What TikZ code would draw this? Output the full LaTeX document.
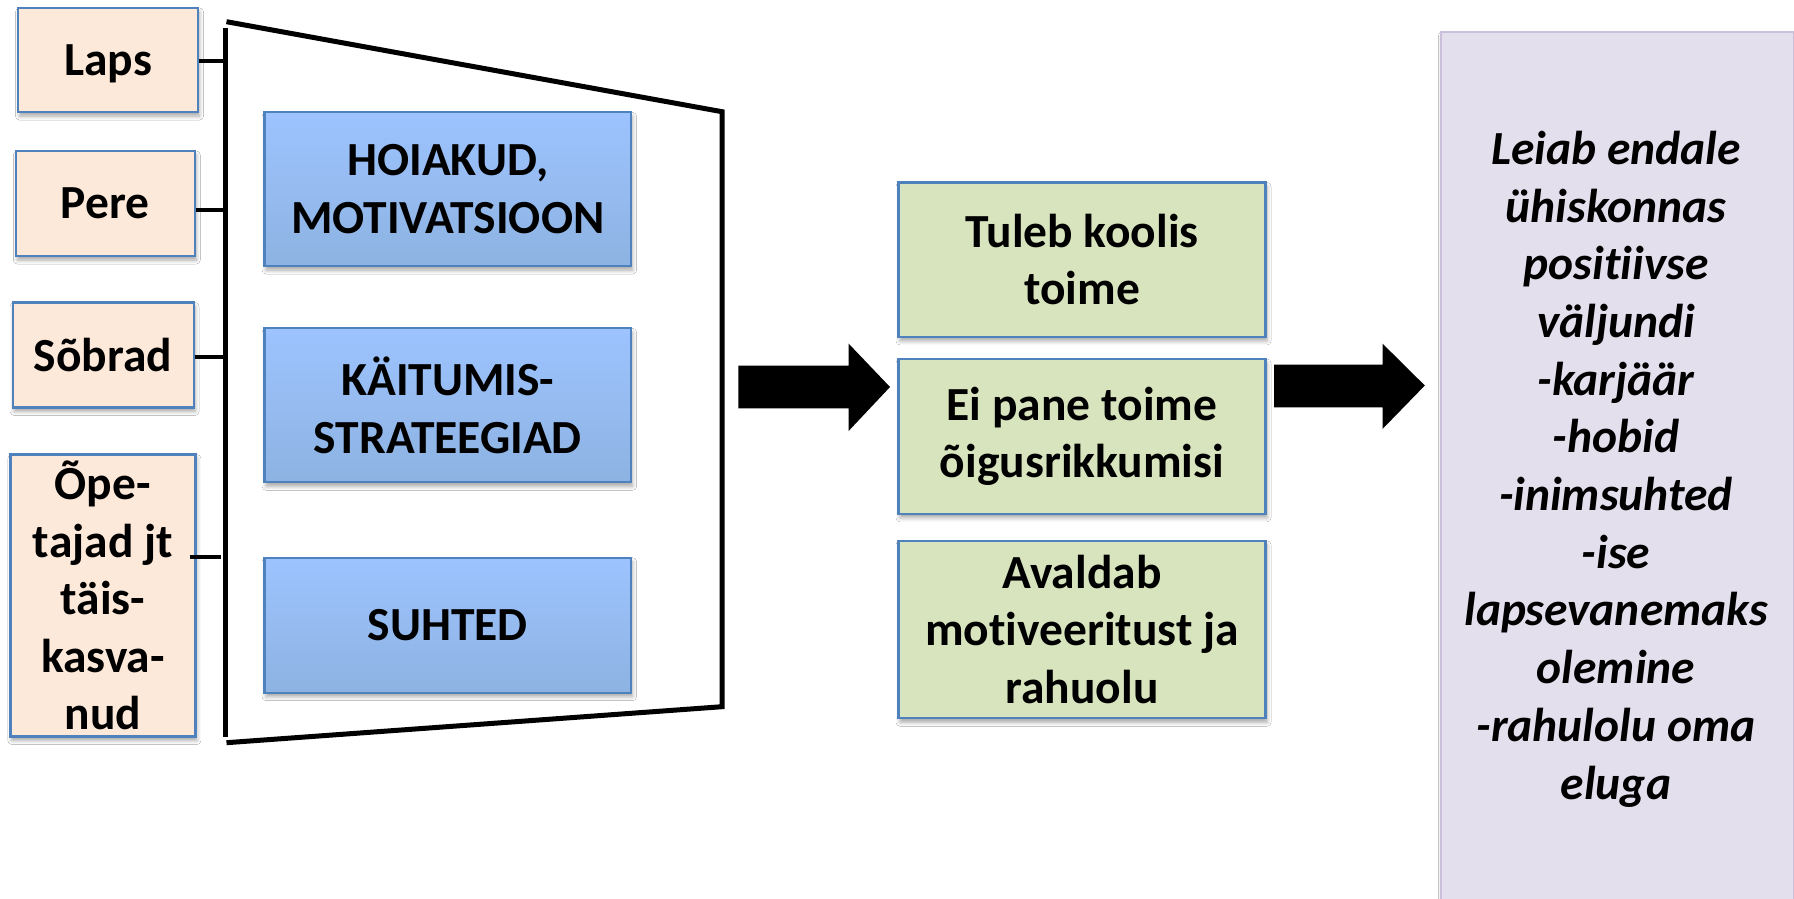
\documentclass[tikz,border=0pt]{standalone}
\usepackage{fontspec}
\setmainfont{Carlito}[Ligatures=NoCommon]
\usetikzlibrary{shadows.blur}
\definecolor{peach}{HTML}{FDE9D9}
\definecolor{boxborder}{HTML}{4F81BD}
\definecolor{bluetop}{HTML}{9DC3FF}
\definecolor{bluebot}{HTML}{8DB3E2}
\definecolor{greenfill}{HTML}{D7E4BD}
\definecolor{purplefill}{HTML}{E4DFEC}
\definecolor{purpleborder}{HTML}{CBC0DC}
\begin{document}
\begin{tikzpicture}[x=1pt,y=-1pt,
  txt/.style={font=\fontsize{47.5}{57.5}\selectfont\bfseries, align=center, inner sep=0pt},
  softshadow/.style={blur shadow={shadow xshift=1.5pt, shadow yshift=-4pt, shadow blur radius=4pt, shadow opacity=35}},
  boxbase/.style={txt, draw=boxborder, line width=2.2pt, softshadow},
  inbox/.style={boxbase, fill=peach},
  factor/.style={boxbase, top color=bluetop, bottom color=bluebot},
  outcome/.style={boxbase, fill=greenfill},
  resultbox/.style={draw=purpleborder, fill=purplefill, line width=2.5pt, softshadow, inner sep=0pt},
  resulttxt/.style={txt, font=\fontsize{47.5}{57.7}\selectfont\bfseries\itshape},
  frame/.style={line width=5pt, black},
  stub/.style={line width=4pt, black},
  bigarrow/.style={fill=black},
]
\useasboundingbox (0,0) rectangle (1794,899);
\fill[white] (0,0) rectangle (1794,899);
\begin{scope}
\clip (0,0) rectangle (1794,899);

% input boxes
\node[inbox, minimum width=180, minimum height=104] (laps) at (108,60) {\rule{0pt}{38pt}Laps};
\node[inbox, minimum width=179, minimum height=105] (pere) at (105.3,203.5) {Pere};
\node[inbox, minimum width=181, minimum height=105] (sobrad) at (103.1,355) {Sõbrad};
\node[inbox, minimum width=185, minimum height=282] (opet) at (102.9,595.5) {Õpe-\\tajad jt\\täis-\\kasva-\\nud};

% frame
\coordinate (tl) at (226.5,21.7);
\coordinate (tr) at (722,111.7);
\coordinate (br) at (722,706.7);
\coordinate (bl) at (226.5,742.7);
\coordinate (vtop) at (225,28);
\coordinate (vbot) at (225,737);
\draw[frame] (tl) -- (tr) -- (br) -- (bl);
\draw[frame] (vtop) -- (vbot);

% stubs
\coordinate (s1) at ([yshift=-1pt]laps.east);
\coordinate (s2) at ([yshift=-6.5pt]pere.east);
\coordinate (s3) at ([yshift=-2pt]sobrad.east);
\coordinate (s4) at ([xshift=-7pt,yshift=38.8pt]opet.east);
\draw[stub] (s1) -- (s1 -| vtop);
\draw[stub] (s2) -- (s2 -| vtop);
\draw[stub] (s3) -- (s3 -| vtop);
\draw[stub] (s4) -- ([xshift=-4pt]s4 -| vtop);

% factor boxes
\node[factor, minimum width=366.5, minimum height=153.7] (hoiak) at (447.8,189.2) {HOIAKUD,\\MOTIVATSIOON};
\node[factor, minimum width=366.5, minimum height=154] (kait) at (447.8,405.3) {KÄITUMIS-\\STRATEEGIAD};
\node[factor, minimum width=366.5, minimum height=135] (suht) at (447.8,625.2) {SUHTED};

% outcome boxes
\node[outcome, minimum width=367, minimum height=154.5] (tuleb) at (1082,259.7) {Tuleb koolis\\toime};
\node[outcome, minimum width=367, minimum height=154.8] (eipane) at (1082,436.4) {Ei pane toime\\õigusrikkumisi};
\node[outcome, minimum width=367, minimum height=177.5] (avaldab) at (1082,629.5) {Avaldab\\motiveeritust ja\\rahuolu};

% result box
\node[resultbox, anchor=north west, minimum width=353.5, minimum height=884] (result) at (1439.5,31) {};
\node[resulttxt] (resulttext) at (1616,469) {Leiab endale\\ühiskonnas\\positiivse\\väljundi\\-karjäär\\-hobid\\-inimsuhted\\-ise\\lapsevanemaks\\olemine\\-rahulolu oma\\eluga};

% block arrows
\fill[bigarrow] (738.4,365.5) -- (848.6,365.5) -- (848.6,343.6) -- (890,387) -- (848.6,431) -- (848.6,408.4) -- (738.4,408.4) -- cycle;
\fill[bigarrow] (1274,364.7) -- (1382.5,364.7) -- (1382.5,343.6) -- (1424.8,385.5) -- (1382.5,429) -- (1382.5,407.3) -- (1274,407.3) -- cycle;
\end{scope}
\end{tikzpicture}
\end{document}
